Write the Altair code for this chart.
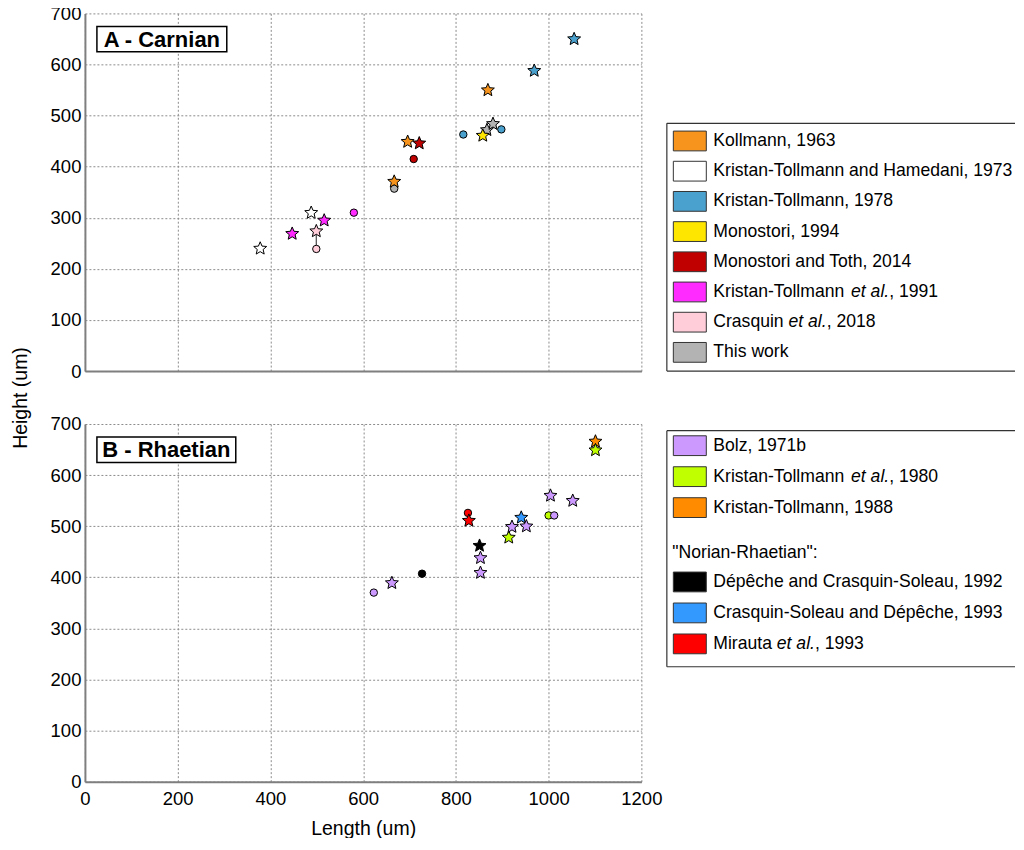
import math
import altair as alt
import pandas as pd

FONT = "Liberation Sans"

# ---------------- Panel A : Carnian ----------------
a_sources = ["Kollmann, 1963", "Kristan-Tollmann and Hamedani, 1973", "Kristan-Tollmann, 1978",
             "Monostori, 1994", "Monostori and Toth, 2014", "Kristan-Tollmann et al., 1991",
             "Crasquin et al., 2018", "This work"]
a_colors = ["#F7941D", "#FFFFFF", "#4BA1CE", "#FFE600", "#C00000", "#FF2BFF", "#FFCCDA", "#B3B3B3"]

a_src = ["This work", "This work", "This work",
         "Kollmann, 1963", "Kollmann, 1963", "Kollmann, 1963",
         "Kristan-Tollmann and Hamedani, 1973", "Kristan-Tollmann and Hamedani, 1973",
         "Kristan-Tollmann, 1978", "Kristan-Tollmann, 1978", "Kristan-Tollmann, 1978", "Kristan-Tollmann, 1978",
         "Monostori, 1994",
         "Monostori and Toth, 2014", "Monostori and Toth, 2014",
         "Kristan-Tollmann et al., 1991", "Kristan-Tollmann et al., 1991", "Kristan-Tollmann et al., 1991",
         "Crasquin et al., 2018", "Crasquin et al., 2018"]
a_len = [667, 867, 880,
         667, 696, 869,
         378, 488,
         816, 898, 969, 1055,
         858,
         709, 721,
         447, 516, 580,
         499, 499]
a_hgt = [357, 473, 485,
         372, 450, 551,
         241, 311,
         463, 473, 589, 651,
         462,
         415, 447,
         270, 296, 310,
         239, 275]
a_shape = ["circle", "star", "star",
           "star", "star", "star",
           "star", "star",
           "circle", "circle", "star", "star",
           "star",
           "circle", "star",
           "star", "star", "circle",
           "circle", "star"]

# ---------------- Panel B : Rhaetian ----------------
b_sources = ["Bolz, 1971b", "Kristan-Tollmann et al., 1980", "Kristan-Tollmann, 1988",
             "Dépêche and Crasquin-Soleau, 1992", "Crasquin-Soleau and Dépêche, 1993", "Mirauta et al., 1993"]
b_colors = ["#CC99FF", "#BFFF00", "#FF8C00", "#000000", "#3399FF", "#FF0000"]
b_header = '"Norian-Rhaetian":'
b_header_after = 3  # header placed before the 4th entry

b_src = ["Kristan-Tollmann, 1988",
         "Kristan-Tollmann et al., 1980", "Kristan-Tollmann et al., 1980", "Kristan-Tollmann et al., 1980",
         "Dépêche and Crasquin-Soleau, 1992", "Dépêche and Crasquin-Soleau, 1992",
         "Crasquin-Soleau and Dépêche, 1993",
         "Mirauta et al., 1993", "Mirauta et al., 1993",
         "Bolz, 1971b", "Bolz, 1971b", "Bolz, 1971b", "Bolz, 1971b", "Bolz, 1971b",
         "Bolz, 1971b", "Bolz, 1971b", "Bolz, 1971b", "Bolz, 1971b"]
b_len = [1101,
         914, 1000, 1101,
         851, 727,
         941,
         826, 828,
         1004, 1052, 921, 952, 853, 853, 662, 1012, 623]
b_hgt = [667,
         479, 521, 650,
         463, 407,
         518,
         526, 512,
         561, 551, 500, 501, 439, 410, 390, 521, 370]
b_shape = ["star",
           "star", "circle", "star",
           "star", "circle",
           "star",
           "circle", "star",
           "star", "star", "star", "star", "star", "star", "star", "circle", "circle"]

x_ticks = [0, 200, 400, 600, 800, 1000, 1200]
y_ticks = [0, 100, 200, 300, 400, 500, 600, 700]

# ---------------- layout / style ----------------
PW, PH = 557, 358
LW = 349
LEG_FS = 17.6
SW_X, TEXT_X, HEADER_X = 23.5, 47, 6
RECT_PATH = "M-1,-0.6L1,-0.6L1,0.6L-1,0.6Z"


def star_path(inner=0.45):
    pts = []
    for k in range(10):
        r = 1.0 if k % 2 == 0 else inner
        ang = math.radians(-90 + 36 * k)
        pts.append((r * math.cos(ang), r * math.sin(ang) + 0.0955))
    return "M" + "L".join(f"{px:.4f},{py:.4f}" for px, py in pts) + "Z"


STAR_PATH = star_path()

# Arial / Liberation Sans advance widths (per 1000 em) for legend text pieces
CHAR_W = {' ': 278, '-': 333, ',': 278, '.': 278, 'C': 722, 'K': 667, 'M': 833, 'T': 611,
          'a': 556, 'e': 556, 'i': 222, 'l': 222, 'm': 833, 'n': 556, 'o': 556, 'q': 556,
          'r': 333, 's': 500, 't': 278, 'u': 556}


def text_w(s):
    return sum(CHAR_W.get(c, 556) for c in s) * LEG_FS / 1000.0


def split_label(lbl):
    if "et al." in lbl:
        pre, post = lbl.split("et al.")
        return pre, "et al.", post
    return lbl, "", ""


def panel(df, sources, colors, label, box_w, bottom, link=None):
    if bottom:
        xaxis = alt.Axis(values=x_ticks, format="d", labels=True, ticks=False, labelFlush=False,
                         labelPadding=8, labelFontSize=18.5, labelFont=FONT,
                         title="Length (um)", titleFontSize=19.5, titleFont=FONT,
                         titleFontWeight="normal", titlePadding=11, titleColor="black")
        yaxis = alt.Axis(values=y_ticks, ticks=False, labelFlush=False, labelPadding=4,
                         labelFontSize=18.5, labelFont=FONT, title="Height (um)",
                         titleFontSize=19.5, titleFont=FONT, titleFontWeight="normal",
                         titleX=-64.5, titleY=-26.5, titleAngle=270, titleAlign="center",
                         titleBaseline="middle", titleColor="black")
    else:
        xaxis = alt.Axis(values=x_ticks, labels=False, ticks=False, title=None)
        yaxis = alt.Axis(values=y_ticks, ticks=False, labelFlush=False, labelPadding=4,
                         labelFontSize=18.5, labelFont=FONT, title=None)
    xs = alt.Scale(domain=[0, 1200], nice=False, zero=False)
    ys = alt.Scale(domain=[0, 700], nice=False, zero=False)
    fs = alt.Scale(domain=sources, range=colors)

    base = alt.Chart(df)
    layers = []
    if link is not None:
        layers.append(base.transform_filter(alt.datum.src == link).mark_line(
            color="#555555", strokeWidth=1.3).encode(
            x=alt.X("len_um:Q", scale=xs, axis=xaxis), y=alt.Y("hgt_um:Q", scale=ys, axis=yaxis)))
    circles = base.transform_filter(alt.datum.kind == "circle").mark_point(
        shape="circle", size=55, filled=True, stroke="black", strokeWidth=1, opacity=1).encode(
        x=alt.X("len_um:Q", scale=xs, axis=xaxis),
        y=alt.Y("hgt_um:Q", scale=ys, axis=yaxis),
        fill=alt.Fill("src:N", scale=fs, legend=None))
    stars = base.transform_filter(alt.datum.kind == "star").mark_point(
        shape=STAR_PATH, size=185, filled=True, stroke="black", strokeWidth=1, opacity=1).encode(
        x=alt.X("len_um:Q", scale=xs, axis=xaxis),
        y=alt.Y("hgt_um:Q", scale=ys, axis=yaxis),
        fill=alt.Fill("src:N", scale=fs, legend=None))
    layers += [circles, stars]
    one = alt.Data(values=[{"k": 1}])
    box = alt.Chart(one).mark_rect(fill="white", stroke="black", strokeWidth=1.5).encode(
        x=alt.value(12), x2=alt.value(12 + box_w), y=alt.value(13), y2=alt.value(38.5))
    txt = alt.Chart(one).mark_text(
        text=label, font=FONT, fontSize=22, fontWeight="bold", align="center", baseline="middle",
        color="black").encode(x=alt.value(12 + box_w / 2), y=alt.value(26.5))
    layers += [box, txt]
    return alt.layer(*layers).properties(width=PW, height=PH)


def legend(sources, colors, rows, dom, rng, ftop, fbot, header=None, header_row=None):
    ys = alt.Scale(domain=dom, range=rng, nice=False, zero=False)
    xs = alt.Scale(domain=[0, LW], range=[0, LW], nice=False, zero=False)
    sw = pd.DataFrame({"lab": sources, "row": rows})
    segs = []
    for lbl, r in zip(sources, rows):
        pre, it, post = split_label(lbl)
        x = TEXT_X
        segs.append(dict(row=r, seg=pre, xoff=x, sty="normal"))
        if it:
            x += text_w(pre)
            segs.append(dict(row=r, seg=it, xoff=x, sty="italic"))
            x += text_w(it)
            segs.append(dict(row=r, seg=post, xoff=x, sty="normal"))
    if header is not None:
        segs.append(dict(row=header_row, seg=header, xoff=HEADER_X, sty="normal"))
    seg_df = pd.DataFrame(segs)

    swatch = alt.Chart(sw).mark_point(shape=RECT_PATH, size=33 * 33, filled=True, opacity=1,
                                      stroke="#333333", strokeWidth=1).encode(
        x=alt.value(SW_X),
        y=alt.Y("row:Q", scale=ys, axis=None),
        fill=alt.Fill("lab:N", scale=alt.Scale(domain=sources, range=colors), legend=None))
    t_norm = alt.Chart(seg_df).transform_filter(alt.datum.sty == "normal").mark_text(
        align="left", baseline="middle", font=FONT, fontSize=LEG_FS, color="black").encode(
        x=alt.X("xoff:Q", scale=xs, axis=None), y=alt.Y("row:Q", scale=ys, axis=None), text="seg:N")
    t_it = alt.Chart(seg_df).transform_filter(alt.datum.sty == "italic").mark_text(
        align="left", baseline="middle", font=FONT, fontSize=LEG_FS, fontStyle="italic",
        color="black").encode(
        x=alt.X("xoff:Q", scale=xs, axis=None), y=alt.Y("row:Q", scale=ys, axis=None), text="seg:N")
    one = alt.Data(values=[{"k": 1}])
    f1 = alt.Chart(one).mark_rule(color="#333333", strokeWidth=1.2).encode(
        x=alt.value(0.5), x2=alt.value(LW), y=alt.value(ftop))
    f2 = alt.Chart(one).mark_rule(color="#333333", strokeWidth=1.2).encode(
        x=alt.value(0.5), x2=alt.value(LW), y=alt.value(fbot))
    f3 = alt.Chart(one).mark_rule(color="#333333", strokeWidth=1.2).encode(
        x=alt.value(0.5), y=alt.value(ftop), y2=alt.value(fbot))
    return alt.layer(swatch, t_norm, t_it, f1, f2, f3).properties(width=LW, height=PH)


dfA = pd.DataFrame({"src": a_src, "len_um": a_len, "hgt_um": a_hgt, "kind": a_shape})
dfB = pd.DataFrame({"src": b_src, "len_um": b_len, "hgt_um": b_hgt, "kind": b_shape})

chartA = panel(dfA, a_sources, a_colors, "A - Carnian", 130, False, link="Crasquin et al., 2018")
chartB = panel(dfB, b_sources, b_colors, "B - Rhaetian", 139, True)

rowsA = list(range(len(a_sources)))
legA = legend(a_sources, a_colors, rowsA, [0, len(a_sources) - 1], [127.7, 339.3], 110, 358)

rowsB = [i if i < b_header_after else i + 1.4 for i in range(len(b_sources))]
legB = legend(b_sources, b_colors, rowsB, [0, rowsB[-1]], [21.7, 21.7 + 31 * rowsB[-1]], 6.7, 243,
              header=b_header, header_row=b_header_after + 0.45)

chart = alt.concat(
    chartA, legA, chartB, legB, columns=2, bounds="flush",
    spacing=alt.RowColnumber(row=53, column=25)
).resolve_scale(
    x="independent", y="independent", fill="independent"
).properties(
    padding={"left": 2, "top": -4, "right": 0, "bottom": 0}
).configure(font=FONT).configure_view(strokeWidth=0).configure_axis(
    domainColor="#7f7f7f", domainWidth=2, gridColor="#8c8c8c", gridDash=[2, 2], gridWidth=1,
    labelColor="black", labelOverlap=False
)

chart.save("out.html", embed_options={"renderer": "svg", "actions": False})
